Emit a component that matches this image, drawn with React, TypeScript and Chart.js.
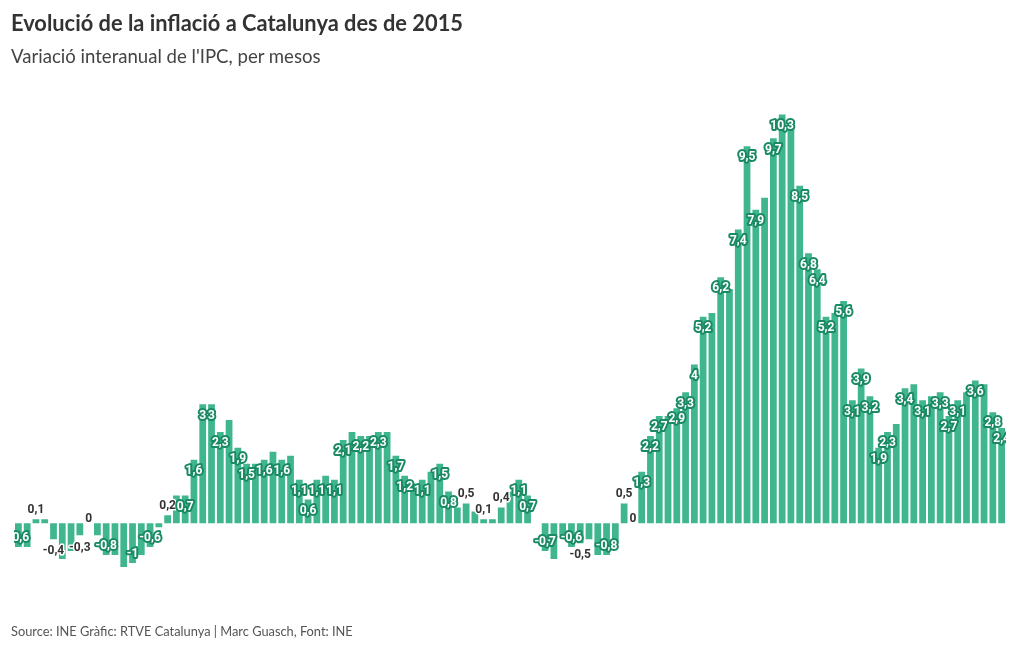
import React, { useEffect, useMemo, useRef } from "react";
import { Chart, registerables } from "chart.js";

Chart.register(...registerables);

// Monthly year-on-year CPI change in Catalonia (%), April 2015 – August 2024
const MONTH_NAMES = ["gen.", "febr.", "març", "abr.", "maig", "juny", "jul.", "ag.", "set.", "oct.", "nov.", "des."];

const ipc2015 = [-0.6, -0.6, 0.1, 0.1, -0.4, -0.9, -0.7, -0.3, 0]; // from April
const ipc2016 = [-0.3, -0.8, -0.8, -1.1, -1.0, -0.8, -0.6, -0.1, 0.2, 0.7, 0.7, 1.6];
const ipc2017 = [3.0, 3.0, 2.3, 2.6, 1.9, 1.5, 1.5, 1.6, 1.8, 1.6, 1.7, 1.1];
const ipc2018 = [0.6, 1.1, 1.2, 1.1, 2.1, 2.3, 2.2, 2.2, 2.3, 2.3, 1.7, 1.2];
const ipc2019 = [1.0, 1.1, 1.3, 1.5, 0.8, 0.4, 0.5, 0.3, 0.1, 0.1, 0.4, 0.8];
const ipc2020 = [1.1, 0.7, 0, -0.7, -0.9, -0.3, -0.6, -0.5, -0.4, -0.8, -0.8, -0.5];
const ipc2021 = [0.5, 0, 1.3, 2.2, 2.7, 2.7, 2.9, 3.3, 4.0, 5.2, 5.3, 6.2];
const ipc2022 = [5.9, 7.4, 9.5, 7.9, 8.2, 9.7, 10.3, 10.0, 8.5, 6.8, 6.4, 5.2];
const ipc2023 = [5.3, 5.6, 3.1, 3.9, 3.2, 1.9, 2.3, 2.5, 3.4, 3.5, 3.1, 3.2];
const ipc2024 = [3.3, 2.7, 3.1, 3.3, 3.6, 3.5, 2.8, 2.4]; // to August

const SERIES_BY_YEAR: [number, number, number[]][] = [
  [2015, 3, ipc2015],
  [2016, 0, ipc2016],
  [2017, 0, ipc2017],
  [2018, 0, ipc2018],
  [2019, 0, ipc2019],
  [2020, 0, ipc2020],
  [2021, 0, ipc2021],
  [2022, 0, ipc2022],
  [2023, 0, ipc2023],
  [2024, 0, ipc2024],
];

const categories: string[] = [];
const values: number[] = [];
SERIES_BY_YEAR.forEach(([year, startMonth, arr]) => {
  arr.forEach((v, k) => {
    categories.push(`${MONTH_NAMES[startMonth + k]} ${year}`);
    values.push(v);
  });
});

const TITLE = "Evolució de la inflació a Catalunya des de 2015";
const SUBTITLE = "Variació interanual de l'IPC, per mesos";
const SOURCE = "Source: INE Gràfic: RTVE Catalunya | Marc Guasch, Font: INE";

const BAR_COLOR = "#3fb68d";
const LABEL_HALO = "#1a8a63";
const TEXT_DARK = "#333333";
const FONT = "Lato, 'Noto Sans', sans-serif";
const LABEL_FONT = "bold 12px Roboto, 'Noto Sans', sans-serif";

const fmt = (v: number) => String(v).replace(".", ",");

const valueLabelPlugin = {
  id: "valueLabels",
  afterDatasetsDraw(chart: any) {
    const ctx: CanvasRenderingContext2D = chart.ctx;
    const meta = chart.getDatasetMeta(0);
    const yScale = chart.scales.y;
    const area = chart.chartArea;
    const zeroY = yScale.getPixelForValue(0);
    ctx.save();
    ctx.beginPath();
    ctx.rect(area.left, 0, area.right - area.left, chart.height);
    ctx.clip();
    ctx.font = LABEL_FONT;
    ctx.textAlign = "center";
    ctx.textBaseline = "alphabetic";
    const placed: { l: number; r: number; t: number; b: number }[] = [];
    const h = 14;
    meta.data.forEach((bar: any, i: number) => {
      const v = values[i];
      const text = fmt(v);
      const w = ctx.measureText(text).width;
      const endY = yScale.getPixelForValue(v);
      const barH = Math.abs(endY - zeroY);
      let cy: number;
      let inside: boolean;
      if (v === 0) {
        cy = zeroY - 6;
        inside = false;
      } else if (barH >= 22) {
        inside = true;
        cy = v > 0 ? endY + 10 : endY - 10;
      } else {
        inside = false;
        cy = v > 0 ? endY - 11 : endY + 11;
      }
      const cx = bar.x;
      const rect = { l: cx - w / 2, r: cx + w / 2, t: cy - h / 2, b: cy + h / 2 };
      if (placed.some((p) => rect.l < p.r && rect.r > p.l && rect.t < p.b && rect.b > p.t)) return;
      placed.push(rect);
      const baseY = cy + 4.3;
      ctx.lineJoin = "round";
      if (inside) {
        ctx.lineWidth = 4;
        ctx.strokeStyle = LABEL_HALO;
        ctx.strokeText(text, cx, baseY);
        ctx.fillStyle = "#ffffff";
        ctx.fillText(text, cx, baseY);
      } else {
        ctx.lineWidth = 3;
        ctx.strokeStyle = "#ffffff";
        ctx.strokeText(text, cx, baseY);
        ctx.fillStyle = TEXT_DARK;
        ctx.fillText(text, cx, baseY);
      }
    });
    ctx.restore();
  },
};

function fitSize(text: string, weight: string, target: number): number {
  const c = document.createElement("canvas").getContext("2d");
  if (!c) return 16;
  c.font = `${weight} 100px ${FONT}`;
  const w = c.measureText(text).width;
  return (100 * target) / w;
}

export default function App() {
  const canvasRef = useRef<HTMLCanvasElement | null>(null);

  const sizes = useMemo(
    () => ({
      title: fitSize(TITLE, "bold", 452),
      subtitle: fitSize(SUBTITLE, "normal", 310),
      source: fitSize(SOURCE, "normal", 342),
    }),
    []
  );

  useEffect(() => {
    if (!canvasRef.current) return;
    const chart = new Chart(canvasRef.current, {
      type: "bar",
      data: {
        labels: categories,
        datasets: [
          {
            data: values,
            backgroundColor: BAR_COLOR,
            borderWidth: 0,
            barPercentage: 0.77,
            categoryPercentage: 1,
          },
        ],
      },
      options: {
        animation: false,
        responsive: false,
        maintainAspectRatio: false,
        layout: { padding: { left: 14, right: 14, top: 86.6, bottom: 67.15 } },
        plugins: {
          legend: { display: false },
          tooltip: { enabled: false },
        },
        scales: {
          x: { display: false, offset: true, grid: { display: false } },
          y: { display: false, min: -1.5, max: 11 },
        },
      },
      plugins: [valueLabelPlugin],
    });
    return () => chart.destroy();
  }, []);

  const asc = 0.887; // Lato baseline position with line-height 1
  const textBase: React.CSSProperties = {
    position: "absolute",
    left: 11,
    margin: 0,
    lineHeight: 1,
    fontFamily: FONT,
    whiteSpace: "nowrap",
  };

  return (
    <div
      style={{
        position: "fixed",
        left: 0,
        top: 0,
        width: 1020,
        height: 650,
        background: "#ffffff",
        overflow: "hidden",
      }}
    >
      <canvas
        ref={canvasRef}
        width={1020}
        height={650}
        style={{ position: "absolute", left: 0, top: 0, width: 1020, height: 650, display: "block" }}
      />
      <div
        style={{
          ...textBase,
          top: 31.7 - asc * sizes.title,
          fontSize: sizes.title,
          fontWeight: 700,
          color: "#333333",
        }}
      >
        {TITLE}
      </div>
      <div
        style={{
          ...textBase,
          top: 63.3 - asc * sizes.subtitle,
          fontSize: sizes.subtitle,
          fontWeight: 400,
          color: "#444444",
        }}
      >
        {SUBTITLE}
      </div>
      <div
        style={{
          ...textBase,
          top: 636.7 - asc * sizes.source,
          fontSize: sizes.source,
          fontWeight: 400,
          color: "#555555",
        }}
      >
        {SOURCE}
      </div>
    </div>
  );
}
